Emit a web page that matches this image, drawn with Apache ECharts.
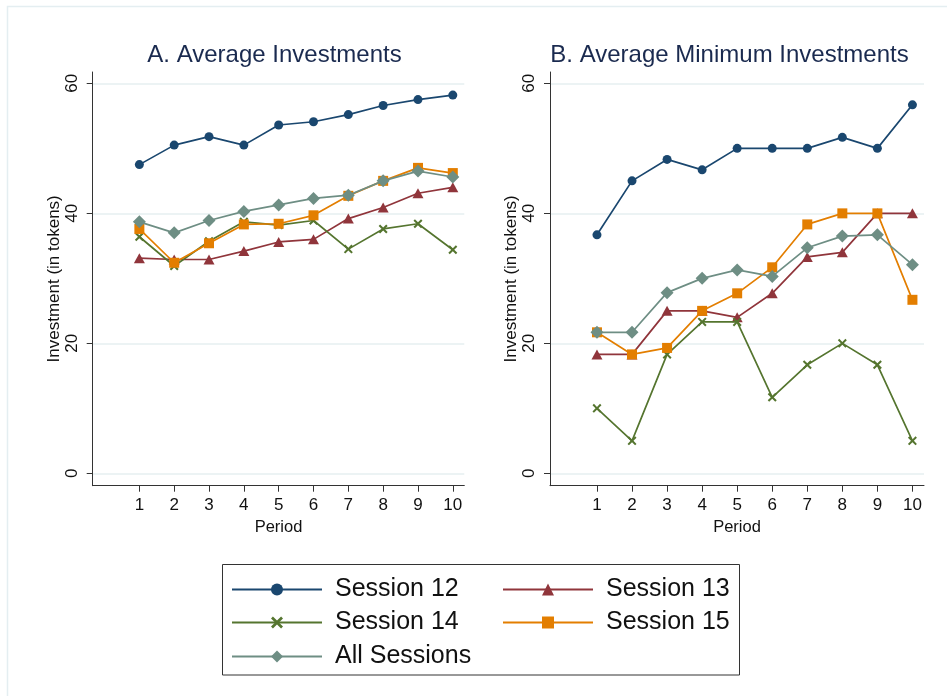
<!DOCTYPE html>
<html>
<head>
<meta charset="utf-8">
<script src="https://cdn.jsdelivr.net/npm/echarts@6/dist/echarts.min.js"></script>
<style>
html,body{margin:0;padding:0;background:#fff;}
#chart{width:947px;height:696px;}
</style>
</head>
<body>
<div id="chart"></div>
<script>
// ---- data ----
var periods = [1, 2, 3, 4, 5, 6, 7, 8, 9, 10];
var yTicks = [0, 20, 40, 60];
var seriesNames = ['Session 12', 'Session 13', 'Session 14', 'Session 15', 'All Sessions'];

// Panel A: Average Investments
var s12A = [47.5, 50.5, 51.8, 50.5, 53.6, 54.1, 55.2, 56.6, 57.5, 58.2];
var s13A = [33.1, 32.9, 32.9, 34.2, 35.6, 36.0, 39.2, 40.9, 43.1, 44.0];
var s14A = [36.4, 31.9, 35.7, 38.7, 38.2, 38.9, 34.5, 37.6, 38.4, 34.4];
var s15A = [37.6, 32.4, 35.4, 38.3, 38.4, 39.7, 42.7, 45.0, 47.0, 46.2];
var allA = [38.7, 37.0, 38.9, 40.3, 41.3, 42.3, 42.8, 45.0, 46.5, 45.6];

// Panel B: Average Minimum Investments
var s12B = [36.7, 45.0, 48.3, 46.7, 50.0, 50.0, 50.0, 51.7, 50.0, 56.7];
var s13B = [18.3, 18.3, 25.0, 25.0, 24.0, 27.7, 33.3, 34.0, 40.0, 40.0];
var s14B = [10.0, 5.0, 18.3, 23.3, 23.3, 11.7, 16.7, 20.0, 16.7, 5.0];
var s15B = [21.7, 18.3, 19.3, 25.0, 27.7, 31.7, 38.3, 40.0, 40.0, 26.7];
var allB = [21.7, 21.7, 27.8, 30.0, 31.3, 30.3, 34.7, 36.5, 36.7, 32.1];

// ---- styling ----
var FONT = '"Liberation Sans", Arial, Helvetica, sans-serif';
var colors = ['#1a476f', '#90353b', '#55752f', '#e37e00', '#6e8e84'];
var xMark = 'path://M1.6,0 L5,3.4 L8.4,0 L10,1.6 L6.6,5 L10,8.4 L8.4,10 L5,6.6 L1.6,10 L0,8.4 L3.4,5 L0,1.6 Z';
var symbols = ['circle', 'triangle', xMark, 'rect', 'diamond'];
var symbolSizes = [9, [11, 10], 9, 10, [13, 13]];

function pair(arr) {
  return periods.map(function (p, i) { return [p, arr[i]]; });
}

function makeX(idx) {
  return {
    gridIndex: idx, type: 'value', min: -0.34, max: 10.33,
    axisLine: { show: true, onZero: false, lineStyle: { color: '#333', width: 1 } },
    axisTick: { show: true, customValues: periods, length: 6, lineStyle: { color: '#333' } },
    axisLabel: { show: true, customValues: periods, fontSize: 17, color: '#111', fontFamily: FONT, margin: 11 },
    splitLine: { show: false },
    name: 'Period', nameLocation: 'middle', nameGap: 30,
    nameTextStyle: { fontSize: 16.5, color: '#111', fontFamily: FONT }
  };
}
function makeY(idx) {
  return {
    gridIndex: idx, type: 'value', min: -1.9, max: 61.75,
    axisLine: { show: true, onZero: false, lineStyle: { color: '#333', width: 1 } },
    axisTick: { show: true, customValues: yTicks, length: 6, lineStyle: { color: '#333' } },
    axisLabel: { show: true, customValues: yTicks, rotate: 90, fontSize: 17, color: '#111', fontFamily: FONT, margin: 12 },
    splitLine: { show: true, lineStyle: { color: '#e6eff1', width: 1.5 } },
    name: 'Investment (in tokens)', nameLocation: 'middle', nameGap: 27, nameRotate: 90,
    nameTextStyle: { fontSize: 17, color: '#111', fontFamily: FONT }
  };
}

var dataA = [s12A, s13A, s14A, s15A, allA];
var dataB = [s12B, s13B, s14B, s15B, allB];
var series = [];
[dataA, dataB].forEach(function (set, g) {
  set.forEach(function (arr, i) {
    series.push({
      name: seriesNames[i], type: 'line', xAxisIndex: g, yAxisIndex: g,
      data: pair(arr), symbol: symbols[i], symbolSize: symbolSizes[i], showSymbol: true,
      lineStyle: { color: colors[i], width: 1.7 },
      itemStyle: { color: colors[i] },
      z: 2 + i, animation: false, emphasis: { disabled: true }
    });
  });
});

// legend slots: [name, left, top]
var legendSlots = [
  ['Session 12', 231, 577], ['Session 13', 502, 577],
  ['Session 14', 231, 610], ['Session 15', 502, 610],
  ['All Sessions', 231, 644]
];
var legends = legendSlots.map(function (s) {
  return {
    orient: 'horizontal', left: s[1], top: s[2], data: [s[0]],
    itemWidth: 90, itemHeight: 15, selectedMode: false, padding: 0,
    textStyle: { fontSize: 25, color: '#111', fontFamily: FONT, padding: [0, 0, 0, 8] }
  };
});

var chart = echarts.init(document.getElementById('chart'), null, { renderer: 'canvas' });
chart.setOption({
  backgroundColor: '#fff',
  animation: false,
  grid: [
    { left: 92.7, top: 72, width: 371.6, height: 413.7 },
    { left: 550, top: 72, width: 374, height: 413.7 }
  ],
  xAxis: [makeX(0), makeX(1)],
  yAxis: [makeY(0), makeY(1)],
  legend: legends,
  graphic: [
    { type: 'rect', shape: { x: 7.5, y: 6.5, width: 1000, height: 1000 }, style: { fill: 'none', stroke: '#e4eef1', lineWidth: 1.5 }, silent: true, z: -10 },
    { type: 'rect', shape: { x: 222.5, y: 564.5, width: 517, height: 110.5 }, style: { fill: 'none', stroke: '#333', lineWidth: 1 }, silent: true },
    { type: 'text', x: 274.5, y: 55, style: { text: 'A. Average Investments', fontSize: 24, fontFamily: FONT, fill: '#1a2a4f', textAlign: 'center', textVerticalAlign: 'middle' }, silent: true },
    { type: 'text', x: 729.5, y: 55, style: { text: 'B. Average Minimum Investments', fontSize: 24, fontFamily: FONT, fill: '#1a2a4f', textAlign: 'center', textVerticalAlign: 'middle' }, silent: true }
  ],
  series: series
});
</script>
</body>
</html>
